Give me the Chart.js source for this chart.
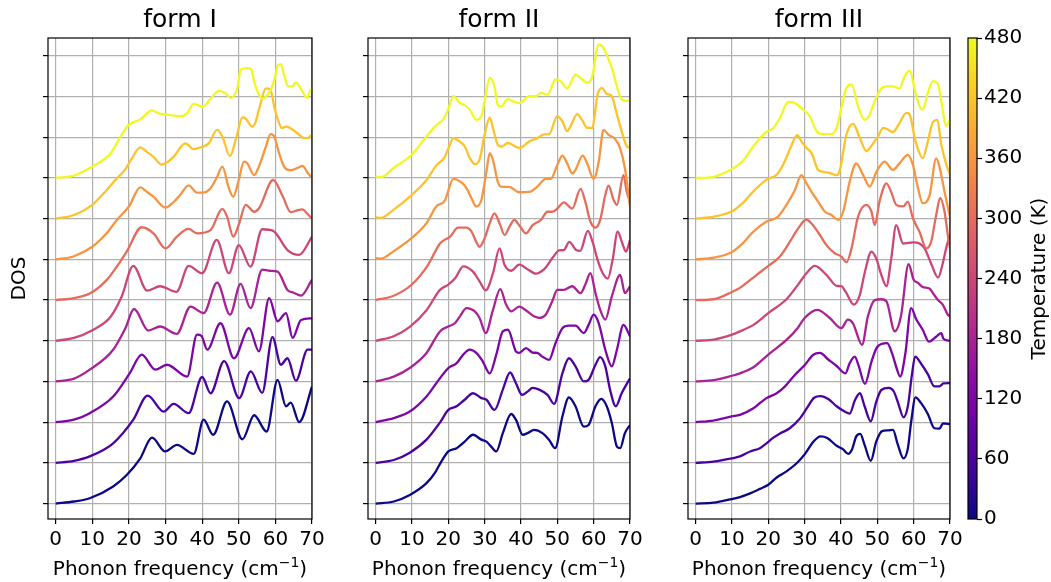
<!DOCTYPE html>
<html><head><meta charset="utf-8">
<script src="https://cdn.jsdelivr.net/npm/chart.js@4"></script>
<style>
html,body{margin:0;padding:0;background:#fff;}
#wrap{position:relative;width:1051px;height:582px;background:#fff;}
canvas{position:absolute;left:0;top:0;}
</style></head><body>
<div id="wrap">
<canvas id="c1" width="1051" height="582"></canvas>
<canvas id="c2" width="1051" height="582"></canvas>
<canvas id="c3" width="1051" height="582"></canvas>
<canvas id="cb" width="1051" height="582"></canvas>
</div>
<script>
// ---------- data ----------
const temperatures = [0, 60, 120, 180, 240, 300, 360, 420, 480];
const baselines = [0, 1, 2, 3, 4, 5, 6, 7, 8];   // vertical stacking offset of each temperature curve
const xTicks = [0, 10, 20, 30, 40, 50, 60, 70];
const yTicks = [0, 1, 2, 3, 4, 5, 6, 7, 8, 9, 10, 11];
const cbTicks = [0, 60, 120, 180, 240, 300, 360, 420, 480];
const panelTitles = ['form I', 'form II', 'form III'];
const xLabelMain = 'Phonon frequency (cm';
const xLabelSup = '\u22121';
const xLabelEnd = ')';
const yLabel = 'DOS';
const cbLabel = 'Temperature (K)';

// form I : [frequency, DOS] per temperature
const f1_T0 = [[0,0],[5,0.05],[9.3,0.13],[15.7,0.42],[19.4,0.70],[23.1,1.11],[26.3,1.62],[29.9,1.28],[33.1,1.44],[37.7,1.22],[40.4,2.06],[43,1.69],[46.8,2.51],[51,1.58],[54.2,2.17],[57.6,1.77],[60.6,3.04],[62.9,2.39],[64.2,2.48],[66.5,2.0],[70,2.87]];
const f1_T60 = [[0,0],[5,0.05],[9.3,0.16],[15.7,0.48],[21.2,1.06],[25.1,1.65],[29.5,1.26],[32.2,1.45],[36.3,1.22],[40,2.11],[42.3,1.71],[46,2.5],[50.1,1.59],[53.3,2.25],[56.4,1.72],[59.2,3.09],[61.5,2.41],[63.3,2.57],[65.6,2.02],[68.8,2.78],[70,2.78]];
const f1_T120 = [[0,0],[5,0.06],[9.3,0.22],[15.7,0.63],[20.2,1.2],[23.5,1.66],[27.2,1.29],[30.4,1.41],[35.9,1.12],[38.6,2.15],[39.8,2.12],[41.4,1.78],[45,2.43],[48.7,1.57],[52.8,2.31],[55.5,1.74],[58.3,3.05],[60.6,2.48],[62.9,2.68],[64.7,2.07],[67,2.51],[70,2.55]];
const f1_T180 = [[0,0],[5,0.07],[9.3,0.29],[15.7,0.78],[19,1.3],[21.4,1.78],[25.3,1.25],[28.5,1.35],[33.1,1.17],[36.8,1.84],[40.4,1.68],[44.1,2.43],[47.6,1.64],[50.5,2.40],[53.2,1.80],[56.4,2.75],[58.5,2.72],[60.6,2.70],[63.3,2.25],[65,2.18],[67,2.11],[70,2.5]];
const f1_T240 = [[0,0],[5,0.07],[10,0.26],[15,0.59],[18,1.08],[21.2,1.84],[25,1.23],[28.5,1.34],[33,1.2],[36.3,1.84],[40,1.66],[44,2.48],[47.3,1.66],[50,2.35],[53.2,1.82],[56.4,2.74],[59.4,2.70],[63.3,2.23],[66.5,2.11],[70,2.56]];
const f1_T300 = [[0,0],[5,0.05],[9.3,0.16],[13.9,0.49],[17.6,0.94],[19.4,1.19],[23.5,1.79],[26.7,1.64],[30,1.27],[33.1,1.56],[36.3,1.75],[38.6,1.64],[42.3,1.72],[45.5,2.24],[46.8,2.05],[48.5,1.56],[50,1.85],[51.9,2.34],[54.2,2.17],[55.5,2.25],[59.4,2.95],[62,2.55],[64.2,2.16],[65.8,2.2],[67.4,2.23],[68.7,2.12],[70,2.0]];
const f1_T360 = [[0,0],[4.8,0.07],[10,0.31],[13.9,0.64],[16.7,0.97],[20,1.30],[23.1,1.77],[24.9,1.66],[26.7,1.54],[30,1.27],[32.2,1.41],[34,1.58],[36.3,1.82],[38.6,1.64],[40.2,1.64],[42.3,1.75],[44.1,2.03],[45.5,2.28],[47.3,1.75],[48.5,1.54],[50,1.95],[51.4,2.40],[52.3,2.36],[54.2,2.07],[55.5,2.28],[57.4,2.77],[58.7,3.08],[59.7,3.02],[61,2.61],[62.6,2.25],[64.2,2.19],[66.1,2.25],[67.4,2.30],[68.8,2.13],[70,2.0]];
const f1_T420 = [[0,0],[5,0.09],[10,0.34],[13.9,0.70],[16.7,0.99],[18.9,1.20],[20.8,1.48],[23.1,1.75],[24.9,1.64],[26.7,1.52],[29,1.33],[30,1.36],[32.2,1.52],[35.4,1.85],[37.7,1.71],[39.5,1.75],[41.8,1.85],[44.1,2.18],[45.5,2.02],[47.6,1.54],[49.4,2.02],[51,2.49],[51.9,2.46],[53.7,2.26],[54.6,2.38],[55.7,2.75],[57.4,3.2],[58.6,3.18],[59.7,2.75],[60.7,2.43],[61.7,2.23],[62.9,2.26],[64,2.23],[66,2.1],[67.9,1.98],[68.8,1.98],[70,2.07]];
const f1_T480 = [[0,0],[5,0.06],[10,0.28],[15,0.61],[18,1.06],[20,1.31],[23.1,1.44],[26.3,1.66],[28.1,1.59],[30,1.56],[34,1.52],[35.9,1.59],[37.7,1.82],[40.2,1.75],[42.3,1.95],[44.6,2.14],[46.4,2.08],[47.8,1.97],[49.6,2.2],[50.5,2.66],[52.3,2.7],[53.4,2.67],[54.2,2.37],[55.5,2.05],[56.4,1.95],[58.7,2.16],[59.7,2.41],[60.7,2.77],[61.5,2.8],[62.4,2.52],[63.5,2.25],[64.7,2.25],[65.6,2.35],[66.5,2.26],[67.9,2.05],[68.6,1.97],[69.3,2.1],[70,2.23]];

// form II
const f2_T0 = [[0,0],[5,0.05],[9.4,0.21],[14,0.5],[16.5,0.78],[18,1.02],[20,1.28],[22.3,1.36],[24.5,1.52],[26.8,1.69],[29.1,1.57],[30.5,1.52],[31.8,1.40],[33.2,1.28],[35,1.73],[37.3,2.20],[38.6,2.06],[40.5,1.69],[41.8,1.73],[43.6,1.81],[45.9,1.73],[47.7,1.57],[49.4,1.36],[51.4,2.14],[53.2,2.61],[55,2.39],[57.3,1.89],[58.6,1.93],[60.5,2.39],[62.1,2.57],[63.6,2.39],[65,1.98],[66.4,1.40],[67.3,1.36],[68.6,1.73],[70,1.93]];
const f2_T60 = [[0,0],[5,0.07],[9.4,0.25],[14,0.57],[17.7,0.99],[20,1.30],[22.3,1.39],[24.5,1.55],[26.8,1.71],[29.1,1.59],[30.5,1.55],[32.7,1.30],[35,1.80],[37,2.22],[38.6,1.96],[40.3,1.67],[41.8,1.75],[43.2,1.84],[45,1.80],[47.3,1.67],[49.1,1.45],[51.4,2.20],[53.2,2.57],[55,2.37],[57.3,2.0],[58.6,2.04],[60.5,2.41],[61.8,2.60],[63.2,2.37],[64.5,1.80],[66.1,1.39],[67.7,1.71],[70,2.08]];
const f2_T120 = [[0,0],[5,0.1],[9.4,0.26],[14,0.63],[17.7,1.08],[20,1.33],[22.3,1.45],[24.1,1.66],[25.9,1.78],[27.7,1.70],[29.5,1.49],[31.4,1.20],[33.2,1.66],[35,2.23],[36.4,2.27],[38.6,1.74],[39.5,1.70],[41.4,1.82],[43.2,1.71],[44.5,1.70],[45.9,1.61],[47.7,1.53],[49.5,1.94],[51.4,2.31],[53.2,2.37],[55,2.37],[57.3,2.19],[58.6,2.39],[60,2.64],[61.4,2.43],[63.2,1.78],[65,1.37],[66.4,1.78],[68.2,2.39],[70,2.11]];
const f2_T180 = [[0,0],[5,0.12],[9.4,0.33],[14,0.70],[17.7,1.23],[20,1.35],[21.8,1.43],[23.2,1.60],[25,1.80],[27.3,1.72],[28.6,1.56],[30.3,1.19],[32.3,1.76],[34.3,2.27],[35.9,1.89],[37.3,1.72],[39.5,1.84],[41.8,1.72],[43.6,1.60],[45,1.56],[46.8,1.64],[48.6,1.97],[50,2.25],[51.8,2.25],[54.1,2.34],[56.4,2.17],[57.7,2.38],[59.1,2.66],[60.5,2.17],[61.8,1.76],[63.2,1.52],[65,2.09],[67.3,2.62],[68.6,2.17],[70,2.34]];
const f2_T240 = [[0,0],[5,0.11],[9.4,0.34],[14,0.75],[17.7,1.25],[20,1.38],[22,1.55],[24.1,1.83],[26.8,1.70],[28.6,1.46],[30.3,1.24],[32.3,1.66],[34.1,2.27],[35.5,1.86],[37.3,1.72],[39.5,1.87],[41.8,1.76],[44.1,1.65],[46.4,1.76],[48.8,2.05],[50.5,2.22],[51.8,2.23],[53.3,2.43],[55.2,2.23],[56.3,2.21],[58.4,2.70],[59.7,2.43],[61.1,1.98],[62.5,1.66],[63.9,1.53],[65.2,1.98],[66.6,2.68],[67.9,2.39],[68.9,2.19],[70,2.48]];
const f2_T300 = [[0,0],[4.8,0.1],[9.8,0.37],[14.4,0.86],[17.7,1.39],[20.5,1.56],[22.7,1.78],[25,1.78],[26.4,1.68],[27.7,1.43],[28.6,1.31],[30,1.52],[31.4,1.89],[32.7,2.13],[34.1,1.89],[35.5,1.60],[36.8,1.80],[38.2,1.97],[39.5,1.84],[41.4,1.64],[43.2,1.84],[45.5,1.97],[47.3,2.17],[48.6,2.17],[50,2.25],[51.8,2.40],[54.1,2.25],[56.4,2.73],[57.7,2.42],[59.1,1.93],[60.5,1.78],[61.8,1.97],[63.2,2.58],[64.1,2.81],[65.5,2.46],[66.4,2.34],[68.2,3.07],[69.1,2.66],[70,2.42]];
const f2_T360 = [[0,0.03],[1.5,0.02],[4.8,0.19],[9.9,0.52],[14,0.89],[16.7,1.30],[19,1.44],[21.4,1.98],[23.6,1.89],[25,1.75],[26.4,1.50],[27.7,1.30],[29.1,1.46],[30.5,2.16],[31.4,2.61],[32.3,2.44],[33.6,1.91],[34.5,1.79],[36.8,1.78],[39.5,1.65],[42.3,1.66],[44.5,1.79],[46.8,1.98],[48.2,1.98],[50,2.32],[51.4,2.55],[52.7,2.36],[54.1,2.11],[55,2.2],[57,2.55],[58.2,2.36],[60,1.98],[61.4,2.40],[62.7,3.18],[64.1,3.06],[65.9,2.96],[67.3,2.73],[68.6,2.24],[70,1.3]];
const f2_T420 = [[0,0.03],[1.5,0.02],[4.8,0.21],[9.9,0.58],[14,0.95],[16.7,1.31],[19,1.51],[20.2,1.77],[21.4,1.98],[23.2,1.89],[24.5,1.78],[25.9,1.49],[27.3,1.34],[28.6,1.45],[30,2.07],[31.4,2.48],[32.5,2.15],[33.6,1.82],[34.6,1.77],[36.4,1.86],[39.5,1.74],[42.3,1.90],[44.5,1.98],[46.4,2.07],[47.7,2.07],[50,2.52],[51.4,2.39],[52.7,2.15],[53.6,2.27],[55.5,2.57],[56.8,2.43],[58.2,2.23],[59.5,2.23],[61.2,3.09],[62.3,3.21],[63.6,3.07],[65,3.01],[66.4,2.56],[67.7,2.15],[69.1,1.78],[70,1.74]];
const f2_T480 = [[0,0.03],[1.5,0.02],[4.85,0.24],[9.9,0.57],[14,1.02],[16.7,1.30],[18.6,1.44],[19.9,1.67],[21.4,2.01],[23.2,1.84],[24.5,1.79],[25.9,1.68],[27.7,1.43],[29.1,1.52],[30,1.9],[31.4,2.46],[32.7,2.25],[33.6,1.80],[34.5,1.76],[36.4,1.94],[37.7,1.89],[39.5,1.84],[42.3,2.01],[44.1,2.01],[45.5,2.09],[47.3,2.05],[49.5,2.42],[50.9,2.38],[52.7,2.2],[55,2.54],[56.8,2.42],[58.2,2.34],[59.5,2.46],[61.4,3.28],[62.7,3.2],[65,2.7],[67.7,1.93],[69.1,1.89],[70,1.93]];

// form III
const f3_T0 = [[0,0],[4.9,0.02],[9.9,0.11],[12.2,0.16],[15,0.25],[17.7,0.36],[20,0.46],[22.3,0.64],[25,0.79],[27.8,0.99],[30.1,1.22],[32.4,1.52],[34.4,1.65],[36.2,1.61],[38.8,1.42],[40.6,1.33],[42,1.22],[43,1.32],[44.2,1.65],[45.3,1.71],[46.5,1.44],[48.2,1.05],[49.7,1.52],[51.3,1.78],[52.9,1.80],[54.3,1.81],[55.6,1.46],[57.2,1.11],[58.4,1.35],[59.3,2.0],[60.5,2.61],[62.1,2.46],[63.9,2.2],[65.7,1.85],[67.1,1.84],[68.1,1.97],[70,1.95]];
const f3_T60 = [[0,0],[4.9,0.03],[9.9,0.11],[12.2,0.16],[15,0.28],[17.7,0.36],[19.5,0.48],[21.4,0.62],[23.2,0.72],[25.9,0.85],[28.5,1.07],[30.8,1.37],[32.6,1.6],[34.4,1.64],[36.5,1.57],[38.8,1.39],[41,1.26],[42.4,1.21],[43.8,1.53],[45.2,1.71],[46.5,1.39],[48.2,1.02],[49.7,1.5],[51.1,1.79],[53.1,1.84],[54.5,1.76],[55.8,1.45],[57.2,1.12],[58.4,1.39],[59.5,2.15],[60.4,2.61],[62.1,2.43],[63.9,2.18],[65.7,1.88],[67.1,1.88],[68.2,1.95],[70,1.96]];
const f3_T120 = [[0,0],[4.9,0.04],[9.9,0.14],[12.2,0.18],[15.9,0.34],[17.7,0.47],[19.5,0.59],[22.3,0.71],[24.6,0.88],[27.3,1.16],[30.1,1.41],[32.3,1.65],[34.2,1.70],[36.5,1.54],[38.8,1.38],[41.2,1.20],[42.4,1.45],[43.8,1.61],[44.8,1.4],[46.6,0.94],[48.4,1.49],[50,1.85],[52.7,1.94],[54.1,1.68],[55.4,1.3],[56.3,1.12],[57.7,1.68],[59.3,2.80],[60.7,2.53],[62.5,2.27],[64.2,1.98],[66.2,2.10],[67.6,2.19],[68.2,2.05],[70,2.0]];
const f3_T180 = [[0,0],[5,0.03],[10,0.14],[12.2,0.2],[15.9,0.35],[20,0.66],[25,1.02],[28,1.3],[30,1.56],[33.5,1.76],[36.9,1.56],[40.1,1.31],[41.9,1.52],[43.3,1.43],[45.8,0.90],[47.4,1.60],[49.3,2.0],[51.1,2.02],[52.5,1.97],[54.8,1.23],[56.5,1.6],[58.6,2.88],[60,2.5],[61.2,2.42],[62.5,2.32],[64.4,2.28],[65.3,2.17],[66.7,2.0],[68,1.89],[69.4,1.64],[70,1.6]];
const f3_T240 = [[0,0],[5,0.03],[10,0.15],[12.2,0.23],[15.9,0.39],[20,0.68],[25,1.02],[28.2,1.38],[30.5,1.66],[32.8,1.84],[36,1.62],[38.8,1.35],[40.1,1.34],[41.5,1.17],[43.5,0.89],[45.2,1.13],[46.5,1.66],[48.4,2.19],[49.7,2.02],[51.1,1.62],[52.5,1.34],[53.8,2.0],[55.2,2.84],[57.1,2.39],[59.8,2.42],[61.6,2.39],[63,2.27],[64.8,1.9],[66.7,1.55],[68,1.9],[69,2.3],[70,2.6]];
const f3_T300 = [[0,0],[5,0.02],[10,0.2],[12.2,0.3],[16.8,0.62],[20,0.84],[23.2,1.07],[25.9,1.43],[28.2,1.76],[30.5,1.98],[31.9,1.88],[34.2,1.60],[36,1.35],[38.3,1.15],[40.1,1.07],[41.5,0.93],[42.9,1.27],[44.7,2.05],[47,2.34],[48.4,2.17],[49.3,1.84],[50.6,2.42],[52.5,2.87],[53.8,2.66],[55.2,2.34],[57.1,2.30],[58.4,2.42],[59.8,2.01],[61.6,1.68],[63.5,1.27],[64.8,1.43],[66.2,2.09],[67.3,2.51],[68.5,2.17],[69.4,1.60],[70,1.27]];
const f3_T360 = [[0,0],[5,0.04],[10,0.18],[13,0.4],[15.9,0.68],[19.5,0.93],[22.7,1.05],[25,1.34],[27.3,1.70],[29.1,2.07],[30.5,1.87],[31.9,1.66],[33.7,1.42],[35.6,1.17],[37.4,1.09],[39.2,0.97],[40.6,1.17],[42.4,1.91],[44.2,2.36],[46.1,2.07],[47.9,1.79],[49.8,2.16],[52,2.40],[54.3,2.20],[56.1,2.36],[58.4,2.57],[59.8,2.32],[61.2,1.75],[62.5,1.38],[64.4,1.58],[66.2,2.48],[67.1,2.28],[68.5,1.66],[70,1.05]];
const f3_T420 = [[0,0],[5,0.05],[10,0.18],[13,0.39],[15.9,0.67],[19.5,0.96],[22.3,1.08],[24.1,1.33],[25.9,1.70],[28,2.05],[29.1,1.90],[30.5,1.74],[31.9,1.61],[33.7,1.20],[35.1,1.15],[36.9,1.12],[38.8,1.07],[39.7,1.20],[41.5,2.07],[43.3,2.33],[45.2,1.98],[47,1.66],[48.3,1.78],[50.2,2.02],[51.6,2.23],[52.5,2.21],[54.3,2.13],[56.1,2.35],[58,2.60],[58.9,2.56],[60.3,1.98],[61.6,1.61],[62.5,1.49],[63.9,1.90],[65.3,2.38],[66.5,2.43],[67.6,1.82],[69,1.33],[70,1.08]];
const f3_T480 = [[0,0],[5,0.03],[10,0.22],[13,0.42],[15.9,0.78],[19.1,1.11],[21.4,1.23],[23.2,1.48],[25.5,1.87],[27.3,1.84],[30.1,1.64],[31.4,1.52],[33.3,1.15],[35.1,1.08],[37.4,1.08],[38.8,1.23],[40.1,1.72],[41.5,2.21],[42.9,2.30],[44.7,1.76],[46.5,1.43],[47.9,1.56],[49.3,1.89],[51.1,2.20],[52.5,2.25],[54.3,2.25],[56.1,2.20],[57.5,2.50],[58.9,2.64],[60.3,2.17],[61.6,1.76],[62.5,1.68],[63.9,2.09],[65.3,2.38],[66.7,2.31],[67.6,1.89],[69,1.28],[70,1.45]];

const formI = [f1_T0, f1_T60, f1_T120, f1_T180, f1_T240, f1_T300, f1_T360, f1_T420, f1_T480];
const formII = [f2_T0, f2_T60, f2_T120, f2_T180, f2_T240, f2_T300, f2_T360, f2_T420, f2_T480];
const formIII = [f3_T0, f3_T60, f3_T120, f3_T180, f3_T240, f3_T300, f3_T360, f3_T420, f3_T480];

// ---------- style ----------
const FONT = 'DejaVu Sans';
Chart.defaults.font.family = FONT;
Chart.defaults.color = '#000';
const plasmaStops = ['#0d0887','#41049d','#6a00a8','#8f0da4','#b12a90','#cc4778','#e16462','#f2844b','#fca636','#fcce25','#f0f921'];
function hex2rgb(h){return [parseInt(h.slice(1,3),16),parseInt(h.slice(3,5),16),parseInt(h.slice(5,7),16)];}
function plasma(t){
  const p = Math.min(Math.max(t,0),1)*(plasmaStops.length-1);
  const i = Math.min(Math.floor(p), plasmaStops.length-2), f = p - i;
  const a = hex2rgb(plasmaStops[i]), b = hex2rgb(plasmaStops[i+1]);
  return 'rgb(' + a.map((v,k)=>Math.round(v+(b[k]-v)*f)).join(',') + ')';
}
const X_MIN = -2.1, X_MAX = 70, Y_MIN = -0.38, Y_MAX = 11.44;
const GRID = '#b0b0b0';

const spinePlugin = {
  id: 'spines',
  afterDatasetsDraw(chart){
    const a = chart.chartArea, ctx = chart.ctx;
    ctx.save(); ctx.strokeStyle = '#000'; ctx.lineWidth = 1.2;
    ctx.strokeRect(a.left, a.top, a.right - a.left, a.bottom - a.top);
    ctx.restore();
  },
  afterDraw(chart){
    // x-axis label with a real superscript, like matplotlib mathtext
    const a = chart.chartArea, ctx = chart.ctx;
    ctx.save();
    ctx.fillStyle = '#000'; ctx.textBaseline = 'alphabetic'; ctx.textAlign = 'left';
    const big = '20px "' + FONT + '"', small = '14px "' + FONT + '"';
    ctx.font = big; const w1 = ctx.measureText(xLabelMain).width, w3 = ctx.measureText(xLabelEnd).width;
    ctx.font = small; const w2 = ctx.measureText(xLabelSup).width;
    let x = (a.left + a.right) / 2 - (w1 + w2 + w3) / 2;
    const base = 575;
    ctx.font = big; ctx.fillText(xLabelMain, x, base); x += w1;
    ctx.font = small; ctx.fillText(xLabelSup, x, base - 8); x += w2;
    ctx.font = big; ctx.fillText(xLabelEnd, x, base);
    ctx.restore();
  }
};

function makePanel(id, title, series, padLeft, padRight, yWidth, showYTitle){
  const datasets = series.map((pts, k) => ({
    data: pts.map(p => ({x: p[0], y: p[1] + baselines[k]})),
    borderColor: plasma(temperatures[k] / temperatures[temperatures.length-1]),
    borderWidth: 2.3, pointRadius: 0, showLine: true, fill: false,
    cubicInterpolationMode: 'monotone', order: series.length - k
  }));
  return new Chart(document.getElementById(id), {
    type: 'scatter',
    data: {datasets},
    plugins: [spinePlugin],
    options: {
      responsive: false, animation: false, devicePixelRatio: 1,
      layout: {padding: {left: padLeft, right: padRight, top: 0, bottom: 0}},
      plugins: {
        legend: {display: false}, tooltip: {enabled: false},
        title: {display: true, text: title, fullSize: false, color: '#000',
                font: {family: FONT, size: 25, weight: 'normal'}, padding: {top: 5, bottom: 3}}
      },
      scales: {
        x: {
          type: 'linear', min: X_MIN, max: X_MAX,
          afterBuildTicks: s => { s.ticks = xTicks.map(v => ({value: v})); },
          afterFit: s => { s.height = 63; },
          ticks: {font: {size: 20}, padding: 4, maxRotation: 0, autoSkip: false, color: '#000'},
          grid: {color: GRID, lineWidth: 1.2, drawTicks: true, tickLength: 5, tickColor: '#000', tickWidth: 1.2},
          border: {display: false},
          title: {display: false}
        },
        y: {
          type: 'linear', min: Y_MIN, max: Y_MAX,
          afterBuildTicks: s => { s.ticks = yTicks.map(v => ({value: v})); },
          afterFit: s => { s.width = yWidth; },
          ticks: {display: false},
          grid: {color: GRID, lineWidth: 1.2, drawTicks: true, tickLength: 5, tickColor: '#000', tickWidth: 1.2},
          border: {display: false},
          title: {display: showYTitle, text: yLabel, font: {size: 20}, color: '#000', padding: {top: 0, bottom: 0}}
        }
      }
    }
  });
}

makePanel('c1', panelTitles[0], formI, 8, 1051 - 312, 40, true);
makePanel('c2', panelTitles[1], formII, 358, 1051 - 630, 10, false);
makePanel('c3', panelTitles[2], formIII, 678, 1051 - 950, 10, false);

// ---------- colorbar ----------
const colorbarPlugin = {
  id: 'colorbar',
  beforeDatasetsDraw(chart){
    const a = chart.chartArea, ctx = chart.ctx;
    const g = ctx.createLinearGradient(0, a.bottom, 0, a.top);
    plasmaStops.forEach((c, i) => g.addColorStop(i / (plasmaStops.length - 1), c));
    ctx.save(); ctx.fillStyle = g;
    ctx.fillRect(a.left, a.top, a.right - a.left, a.bottom - a.top);
    ctx.strokeStyle = '#000'; ctx.lineWidth = 1.2;
    ctx.strokeRect(a.left, a.top, a.right - a.left, a.bottom - a.top);
    ctx.restore();
  },
  afterDraw(chart){
    const a = chart.chartArea, ctx = chart.ctx;
    ctx.save();
    ctx.translate(1040, (a.top + a.bottom) / 2);
    ctx.rotate(-Math.PI / 2);
    ctx.font = '20px "' + FONT + '"';
    ctx.fillStyle = '#000'; ctx.textAlign = 'center'; ctx.textBaseline = 'middle';
    ctx.fillText(cbLabel, 0, 0);
    ctx.restore();
  }
};
new Chart(document.getElementById('cb'), {
  type: 'scatter',
  data: {datasets: []},
  plugins: [colorbarPlugin],
  options: {
    responsive: false, animation: false, devicePixelRatio: 1,
    layout: {padding: {left: 968, right: 0, top: 38, bottom: 63}},
    plugins: {legend: {display: false}, tooltip: {enabled: false}, title: {display: false}},
    scales: {
      x: {display: false, min: 0, max: 1},
      y: {
        position: 'right', min: cbTicks[0], max: cbTicks[cbTicks.length - 1],
        afterBuildTicks: s => { s.ticks = cbTicks.map(v => ({value: v})); },
        afterFit: s => { s.width = 1051 - 977; },
        ticks: {font: {size: 20}, padding: 2, color: '#000'},
        grid: {drawOnChartArea: false, drawTicks: true, tickLength: 5, tickColor: '#000', tickWidth: 1.2},
        border: {display: false}
      }
    }
  }
});
</script>
</body></html>
